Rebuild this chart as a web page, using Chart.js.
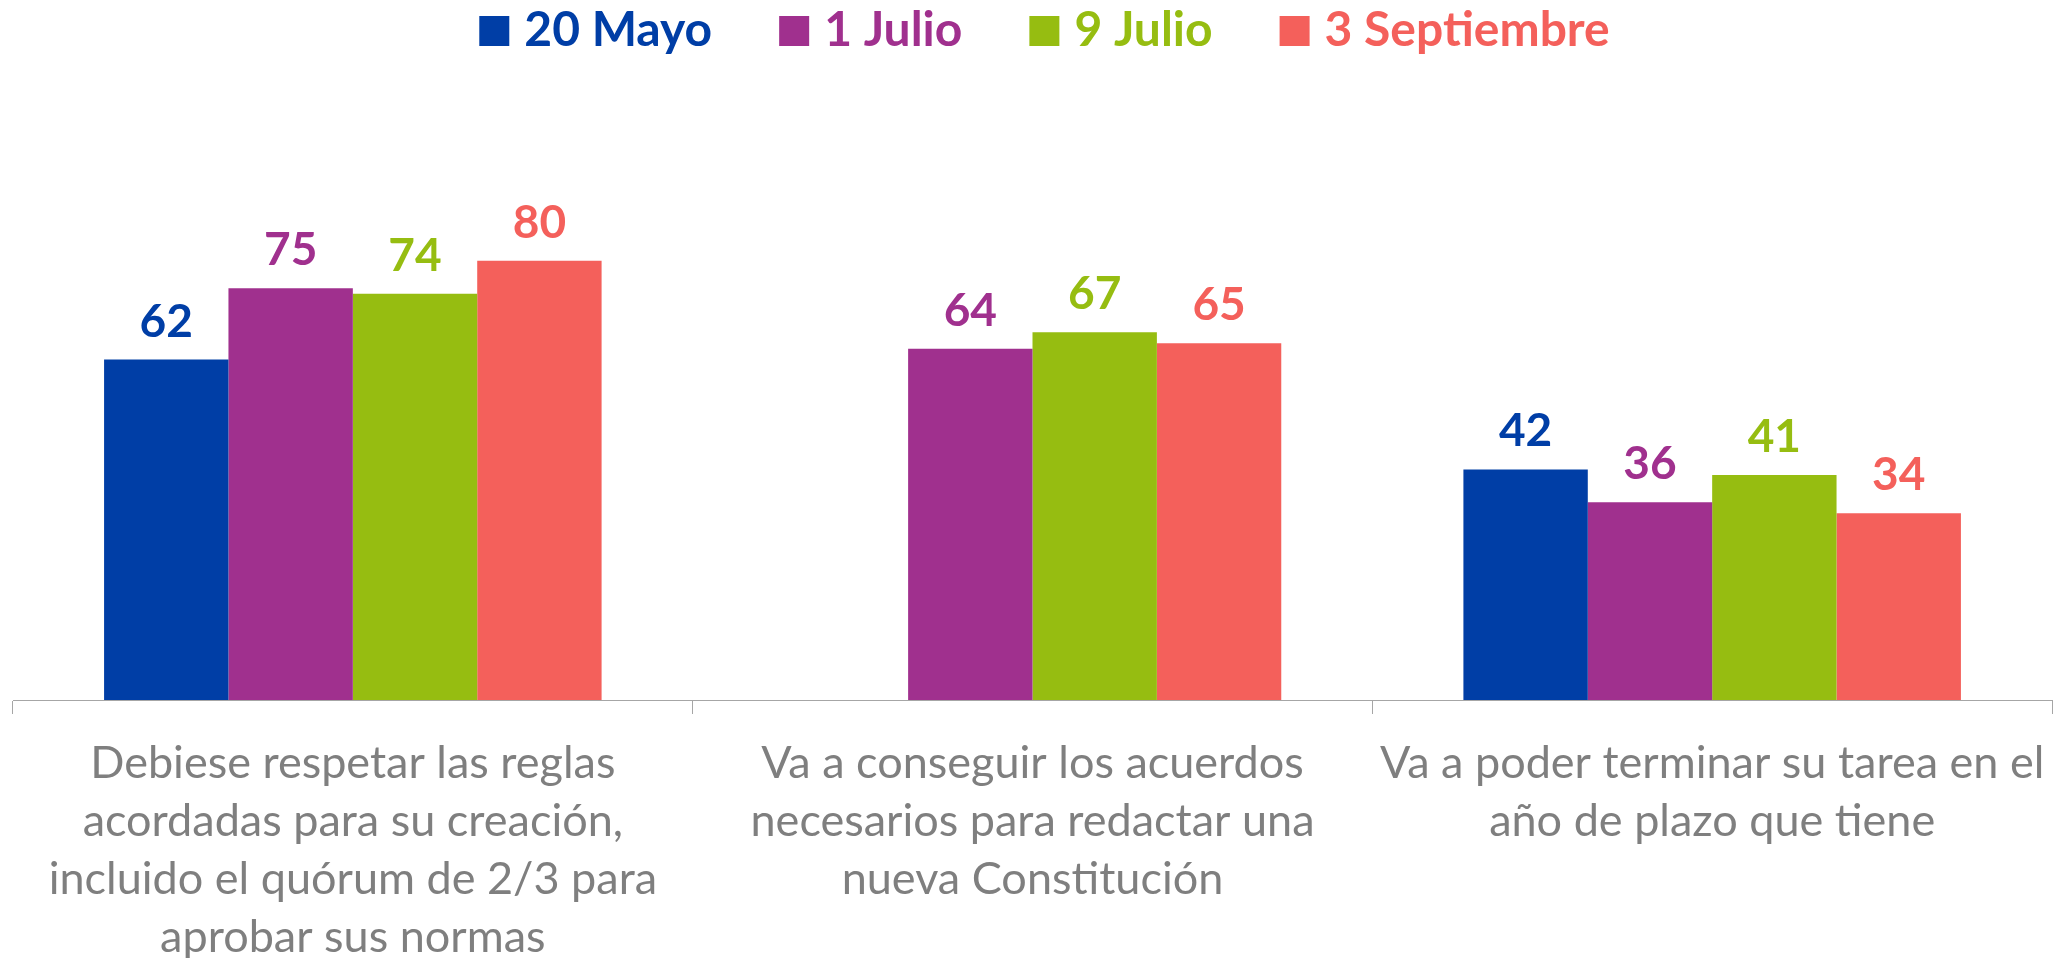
<!DOCTYPE html>
<html>
<head>
<meta charset="utf-8">
<script src="https://cdn.jsdelivr.net/npm/chart.js@4/dist/chart.umd.min.js"></script>
<style>
  html, body { margin: 0; padding: 0; background: #ffffff; }
  #wrap { width: 2061px; height: 958px; }
</style>
</head>
<body>
<div id="wrap"><canvas id="c" width="2061" height="958"></canvas></div>
<script>
const categories = [
  ["Debiese respetar las reglas", "acordadas para su creación,", "incluido el quórum de 2/3 para", "aprobar sus normas"],
  ["Va a conseguir los acuerdos", "necesarios para redactar una", "nueva Constitución"],
  ["Va a poder terminar su tarea en el", "año de plazo que tiene"]
];
const seriesNames = ["20 Mayo", "1 Julio", "9 Julio", "3 Septiembre"];
const mayo20 = [62, null, 42];
const julio1 = [75, 64, 36];
const julio9 = [74, 67, 41];
const sept3 = [80, 65, 34];
const seriesColors = ["#003EA6", "#A0308E", "#96BD11", "#F4605B"];

const FONT = "Lato";

const dataLabelPlugin = {
  id: 'dataLabels',
  afterDatasetsDraw(chart) {
    const ctx = chart.ctx;
    ctx.save();
    ctx.font = "bold 46px " + FONT;
    ctx.textAlign = 'center';
    ctx.textBaseline = 'alphabetic';
    chart.data.datasets.forEach((ds, i) => {
      const meta = chart.getDatasetMeta(i);
      meta.data.forEach((el, j) => {
        const v = ds.data[j];
        if (v === null || v === undefined) return;
        ctx.fillStyle = ds.backgroundColor;
        ctx.fillText(String(v), el.x, el.y - 23);
      });
    });
    ctx.restore();
  }
};

const legendPlugin = {
  id: 'customLegend',
  afterDraw(chart) {
    const ctx = chart.ctx;
    ctx.save();
    ctx.font = "bold 48px " + FONT;
    const box = 30, gap = 15, spacing = 67;
    const items = chart.data.datasets.map(ds => ({
      text: ds.label, color: ds.backgroundColor, w: ctx.measureText(ds.label).width
    }));
    let total = 0;
    items.forEach((it, i) => { total += box + gap + it.w + (i < items.length - 1 ? spacing : 0); });
    let x = (chart.chartArea.left + chart.chartArea.right) / 2 - total / 2 + 12;
    const cy = 31;
    ctx.textBaseline = 'alphabetic';
    ctx.textAlign = 'left';
    items.forEach(it => {
      ctx.fillStyle = it.color;
      ctx.fillRect(x, cy - box / 2, box, box);
      x += box + gap;
      ctx.fillText(it.text, x, 46);
      x += it.w + spacing;
    });
    ctx.restore();
  }
};

const datasets = [mayo20, julio1, julio9, sept3].map((d, i) => ({
  label: seriesNames[i],
  data: d,
  backgroundColor: seriesColors[i],
  borderWidth: 0,
  categoryPercentage: 0.732,
  barPercentage: 1.0
}));

new Chart(document.getElementById('c'), {
  type: 'bar',
  data: { labels: categories, datasets: datasets },
  plugins: [dataLabelPlugin, legendPlugin],
  options: {
    responsive: false,
    animation: false,
    layout: { padding: { top: 151, left: 13, right: 9, bottom: 0 } },
    plugins: {
      legend: { display: false },
      tooltip: { enabled: false },
      title: { display: false }
    },
    scales: {
      x: {
        grid: {
          display: true,
          drawOnChartArea: false,
          drawTicks: true,
          tickLength: 14,
          color: '#A6A6A6',
          lineWidth: 1,
          offset: true
        },
        border: { display: true, color: '#A6A6A6', width: 1 },
        ticks: {
          color: '#7F7F7F',
          font: { family: FONT, size: 45, lineHeight: '58px' },
          padding: 20,
          maxRotation: 0,
          minRotation: 0,
          autoSkip: false
        },
        afterFit(scale) {
          scale.height = 258;
          scale.paddingLeft = 0;
          scale.paddingRight = 0;
        }
      },
      y: {
        display: false,
        min: 0,
        max: 100
      }
    }
  }
});
</script>
</body>
</html>
